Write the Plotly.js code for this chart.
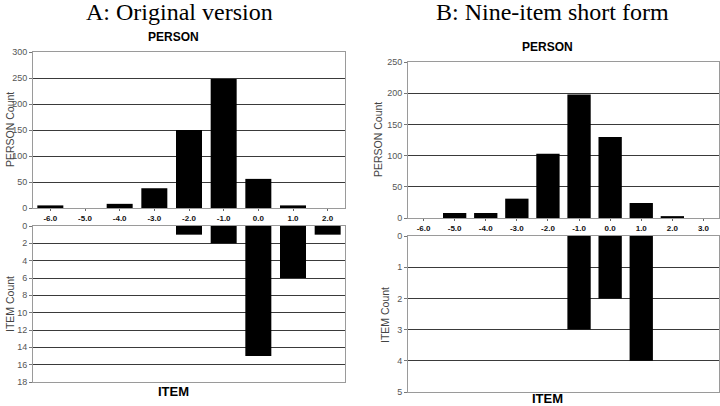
<!DOCTYPE html>
<html>
<head>
<meta charset="utf-8">
<script src="https://cdn.plot.ly/plotly-3.0.1.min.js"></script>
<style>
  body { margin: 0; background: #fff; }
  #myDiv { width: 720px; height: 406px; }
</style>
</head>
<body>
<div id="myDiv"></div>
<script>
// A: original version
var catsA = ["-6.0", "-5.0", "-4.0", "-3.0", "-2.0", "-1.0", "0.0", "1.0", "2.0"]
var personA = [5, 0, 8, 38, 150, 248, 56, 5, 0]
var itemA = [0, 0, 0, 0, 1, 2, 15, 6, 1]

// B: nine-item short form
var catsB = ["-6.0", "-5.0", "-4.0", "-3.0", "-2.0", "-1.0", "0.0", "1.0", "2.0", "3.0"]
var personB = [0, 8, 8, 31, 103, 198, 130, 24, 3, 0]
var itemB = [0, 0, 0, 0, 0, 3, 2, 4, 0, 0]

var font = 'Liberation Sans, Arial, sans-serif'

function bar(x, y, xa, ya) {
    return {
        type: 'bar', x: x, y: y, xaxis: xa, yaxis: ya,
        marker: {color: '#000000'},
        showlegend: false, hoverinfo: 'skip'
    }
}

var data = [
    bar(catsA, personA, 'x', 'y'),
    bar(catsA, itemA, 'x2', 'y2'),
    bar(catsB, personB, 'x3', 'y3'),
    bar(catsB, itemB, 'x4', 'y4')
]

function xax(dom, labels, anchor) {
    return {
        domain: dom, type: 'category', anchor: anchor,
        showline: true, mirror: true, linecolor: '#9a9a9a', linewidth: 1,
        showgrid: false, zeroline: false,
        ticks: labels ? 'outside' : '', ticklen: 2, tickcolor: '#666',
        showticklabels: labels,
        tickfont: {family: font, size: 8, color: '#111', weight: 'bold'},
        fixedrange: true
    }
}

function yax(dom, range, dtick, anchor) {
    return {
        domain: dom, range: range, dtick: dtick, anchor: anchor,
        showline: true, mirror: true, linecolor: '#9a9a9a', linewidth: 1,
        showgrid: true, gridcolor: '#3a3a3a', gridwidth: 1,
        zeroline: false,
        ticks: 'outside', ticklen: 3, tickcolor: '#777',
        tickfont: {family: font, size: 9, color: '#555'},
        fixedrange: true
    }
}

var xdA = [33 / 720, 345 / 720]
var xdB = [408 / 720, 719 / 720]

var layout = {
    width: 720, height: 406,
    margin: {l: 0, r: 0, t: 0, b: 0},
    paper_bgcolor: '#ffffff', plot_bgcolor: '#ffffff',
    bargap: 0.25,
    xaxis: xax(xdA, true, 'y'),
    xaxis2: xax(xdA, false, 'y2'),
    xaxis3: xax(xdB, true, 'y3'),
    xaxis4: xax(xdB, false, 'y4'),
    yaxis: yax([1 - 208 / 406, 1 - 52 / 406], [0, 300], 50, 'x'),
    yaxis2: yax([1 - 382 / 406, 1 - 226 / 406], [18, 0], 2, 'x2'),
    yaxis3: yax([1 - 218 / 406, 1 - 62 / 406], [0, 250], 50, 'x3'),
    yaxis4: yax([1 - 392 / 406, 1 - 236 / 406], [5, 0], 1, 'x4'),
    annotations: []
}

function note(text, x, y, size, opts) {
    var a = {
        text: text, x: x / 720, y: 1 - y / 406, xref: 'paper', yref: 'paper',
        xanchor: 'center', yanchor: 'middle', showarrow: false,
        font: {family: font, size: size, color: '#000'}
    }
    for (var k in opts) a[k] = opts[k]
    return a
}

var serif = {family: 'Liberation Serif, Times New Roman, serif', size: 24, color: '#000'}
layout.annotations.push(note('A: Original version', 179, 12, 24, {font: serif}))
layout.annotations.push(note('B: Nine-item short form', 552, 12, 24, {font: serif}))
layout.annotations.push(note('<b>PERSON</b>', 173, 37, 12))
layout.annotations.push(note('<b>PERSON</b>', 547, 47, 12))
layout.annotations.push(note('<b>ITEM</b>', 173, 391, 13))
layout.annotations.push(note('<b>ITEM</b>', 547, 398, 13))
var side = {textangle: -90, font: {family: font, size: 10.5, color: '#444'}}
layout.annotations.push(note('PERSON Count', 10, 130, 10.5, side))
layout.annotations.push(note('ITEM Count', 10, 304, 10.5, side))
layout.annotations.push(note('PERSON Count', 378, 140, 10.5, side))
layout.annotations.push(note('ITEM Count', 385, 315, 10.5, side))

Plotly.newPlot('myDiv', data, layout, {displayModeBar: false, staticPlot: true});
</script>
</body>
</html>
